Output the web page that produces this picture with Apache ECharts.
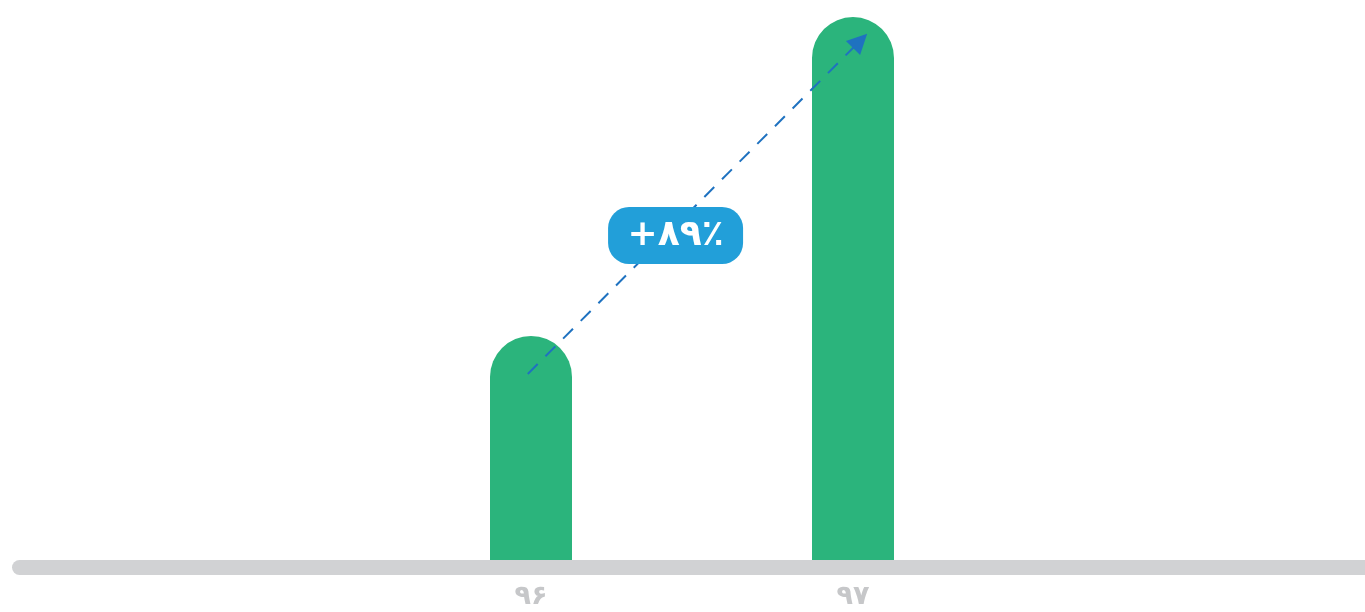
<!DOCTYPE html>
<html>
<head>
<meta charset="utf-8">
<script src="https://cdn.jsdelivr.net/npm/echarts@6/dist/echarts.min.js"></script>
<style>
  html, body { margin: 0; padding: 0; background: #fff; }
  #chart { width: 1365px; height: 612px; }
</style>
</head>
<body>
<div id="chart"></div>
<script>
// years (Persian calendar) and bar heights (0..100 scale)
var years = ['۹۶', '۹۷'];
var values = [40.8, 97];

// growth badge and arrow, in data units (x: category index, y: value)
var growthText = '+۸۹٪';
var arrowStart = [-0.01, 34.1];
var arrowEnd = [1.022, 92.8];
var badgePos = [0.449, 58.5];

var chart = echarts.init(document.getElementById('chart'));

var option = {
    backgroundColor: '#ffffff',
    animation: false,
    grid: [
        { left: 370, right: 351, top: 0, bottom: 44.5 },
        { left: 19.5, right: -20, top: 0, bottom: 44.5 }
    ],
    xAxis: [
        {
            type: 'category',
            gridIndex: 0,
            data: years,
            axisLine: { show: false },
            axisTick: { show: false },
            axisLabel: {
                margin: 16,
                color: '#c6c7c9',
                fontSize: 27,
                fontWeight: 'bold',
                fontFamily: 'DejaVu Sans'
            }
        },
        {
            type: 'value',
            gridIndex: 0,
            min: -0.5,
            max: 1.5,
            show: false
        },
        {
            type: 'value',
            gridIndex: 1,
            min: 0,
            max: 1,
            z: 5,
            axisLine: {
                show: true,
                lineStyle: { color: '#d1d2d4', width: 15, cap: 'round' }
            },
            axisTick: { show: false },
            axisLabel: { show: false },
            splitLine: { show: false }
        }
    ],
    yAxis: [
        { type: 'value', gridIndex: 0, min: 0, max: 100, show: false },
        { type: 'value', gridIndex: 1, min: 0, max: 1, show: false }
    ],
    series: [
        {
            type: 'bar',
            xAxisIndex: 0,
            yAxisIndex: 0,
            data: values,
            barWidth: 82,
            itemStyle: { color: '#2bb47c', borderRadius: [41, 41, 0, 0] }
        },
        {
            type: 'lines',
            coordinateSystem: 'cartesian2d',
            xAxisIndex: 1,
            yAxisIndex: 0,
            z: 4,
            symbol: ['none', 'triangle'],
            symbolSize: [25, 20],
            lineStyle: { color: '#1f72c0', width: 2, type: [14, 11], opacity: 1, curveness: 0 },
            data: [{ coords: [arrowStart, arrowEnd] }]
        },
        {
            type: 'scatter',
            xAxisIndex: 1,
            yAxisIndex: 0,
            z: 6,
            symbolSize: 1,
            itemStyle: { color: 'rgba(0,0,0,0)', opacity: 1 },
            emphasis: { disabled: true },
            data: [badgePos],
            label: {
                show: true,
                position: 'inside',
                formatter: growthText,
                color: '#ffffff',
                fontSize: 36,
                fontWeight: 'bold',
                fontFamily: 'DejaVu Sans',
                backgroundColor: '#229fd9',
                borderRadius: 21,
                width: 135,
                height: 57,
                lineHeight: 57,
                align: 'center',
                verticalAlign: 'middle'
            }
        }
    ]
};

chart.setOption(option);
</script>
</body>
</html>
